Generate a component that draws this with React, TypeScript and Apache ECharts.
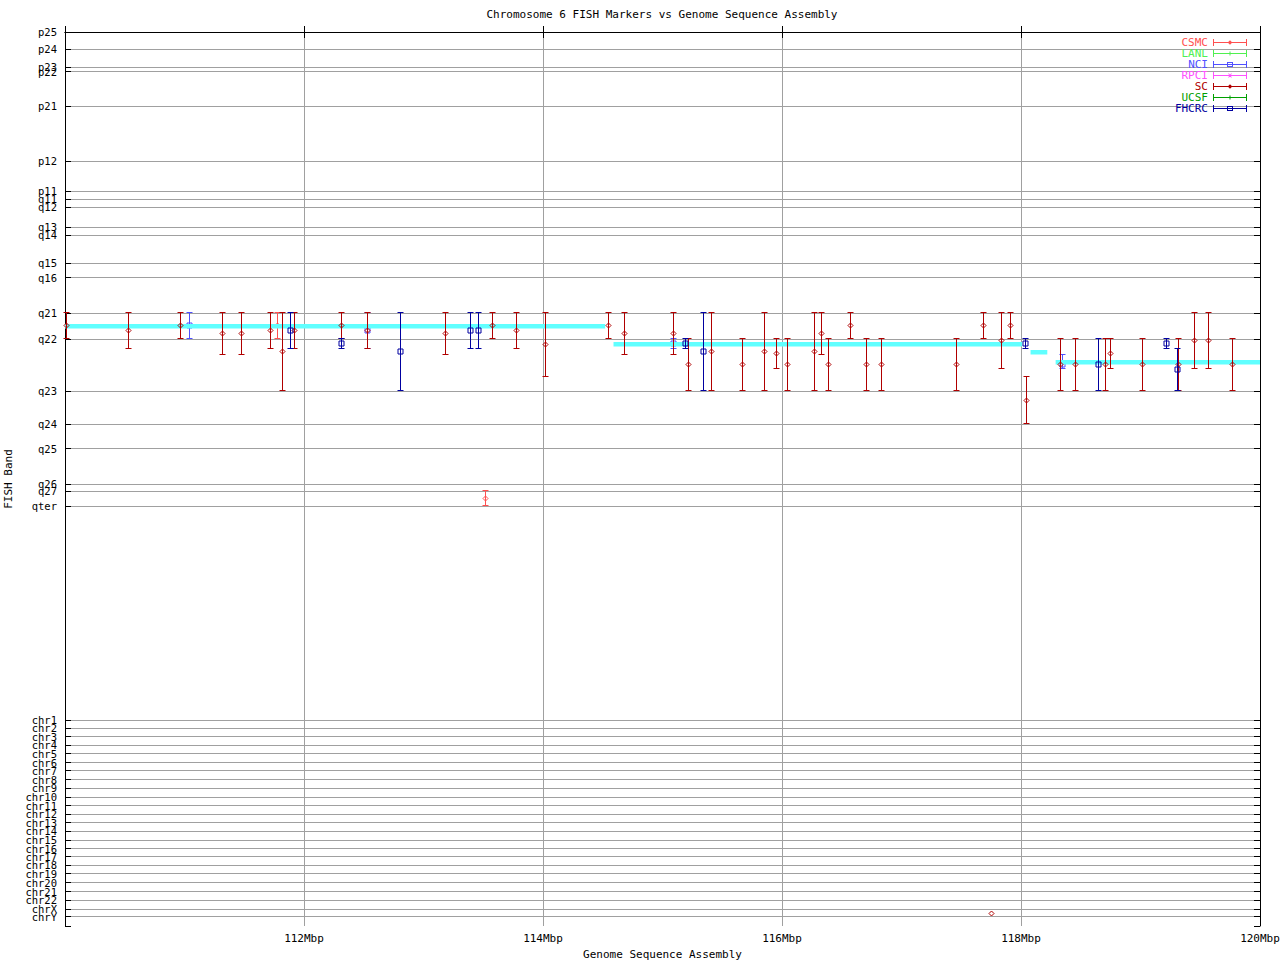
import React, { useEffect, useRef } from 'react';
import * as echarts from 'echarts';

const TITLE = 'Chromosome 6 FISH Markers vs Genome Sequence Assembly';
const X_NAME = 'Genome Sequence Assembly';
const Y_NAME = 'FISH Band';

// x axis: Mbp
const X_MIN = 110;
const X_MAX = 120;
const X_STEP = 2;

// y axis: band position units (0 = p25 at top, 100 = bottom)
const Y_MIN = 0;
const Y_MAX = 100;

const bandLabels = ['p25', 'p24', 'p23', 'p22', 'p21', 'p12', 'p11', 'q11', 'q12', 'q13', 'q14', 'q15', 'q16', 'q21', 'q22', 'q23', 'q24', 'q25', 'q26', 'q27', 'qter'];
const bandPos = [0, 1.9, 3.92, 4.42, 8.28, 14.43, 17.79, 18.68, 19.58, 21.82, 22.71, 25.84, 27.47, 31.42, 34.33, 40.14, 43.84, 46.6, 50.57, 51.33, 53.01];

const chrLabels = ['chr1', 'chr2', 'chr3', 'chr4', 'chr5', 'chr6', 'chr7', 'chr8', 'chr9', 'chr10', 'chr11', 'chr12', 'chr13', 'chr14', 'chr15', 'chr16', 'chr17', 'chr18', 'chr19', 'chr20', 'chr21', 'chr22', 'chrX', 'chrY'];
const chrPos = [76.95, 77.85, 78.82, 79.75, 80.73, 81.73, 82.63, 83.63, 84.56, 85.57, 86.54, 87.47, 88.44, 89.41, 90.38, 91.35, 92.25, 93.22, 94.15, 95.16, 96.16, 97.09, 98.1, 98.96];

// genome sequence assembly segments
const asmStart = [110.0, 114.59, 118.08, 118.29];
const asmEnd = [114.52, 118.01, 118.22, 120.0];
const asmBand = [32.84, 34.85, 35.74, 36.86];

// FISH markers: [position Mbp, band, band low, band high]
const csmcMarkers = [
  [111.78, 32.84, 31.42, 34.33],
  [113.52, 52.23, 51.33, 53.01],
];
const lanlMarkers: number[][] = [];
const nciMarkers = [
  [111.04, 32.84, 31.42, 34.33],
  [112.53, 33.43, 31.42, 35.44],
  [115.09, 34.88, 34.33, 35.44],
  [118.35, 37.23, 36.12, 37.68],
];
const rpciMarkers: number[][] = [];
const scMarkers = [
  [110.01, 32.84, 31.42, 34.33],
  [110.53, 33.43, 31.42, 35.44],
  [110.97, 32.84, 31.42, 34.33],
  [111.32, 33.77, 31.42, 36.12],
  [111.48, 33.77, 31.42, 36.12],
  [111.72, 33.43, 31.42, 35.44],
  [111.82, 35.78, 31.42, 40.14],
  [111.92, 33.43, 31.42, 35.44],
  [112.31, 32.84, 31.42, 34.33],
  [112.53, 33.43, 31.42, 35.44],
  [113.18, 33.77, 31.42, 36.12],
  [113.58, 32.84, 31.42, 34.33],
  [113.78, 33.43, 31.42, 35.44],
  [114.02, 35.0, 31.42, 38.58],
  [114.55, 32.84, 31.42, 34.33],
  [114.68, 33.77, 31.42, 36.12],
  [115.09, 33.77, 31.42, 36.12],
  [115.22, 37.23, 34.33, 40.14],
  [115.41, 35.78, 31.42, 40.14],
  [115.67, 37.23, 34.33, 40.14],
  [115.85, 35.78, 31.42, 40.14],
  [115.95, 36.0, 34.33, 37.68],
  [116.05, 37.23, 34.33, 40.14],
  [116.27, 35.78, 31.42, 40.14],
  [116.33, 33.77, 31.42, 36.12],
  [116.39, 37.23, 34.33, 40.14],
  [116.57, 32.84, 31.42, 34.33],
  [116.71, 37.23, 34.33, 40.14],
  [116.83, 37.23, 34.33, 40.14],
  [117.46, 37.23, 34.33, 40.14],
  [117.69, 32.84, 31.42, 34.33],
  [117.84, 34.55, 31.42, 37.68],
  [117.91, 32.84, 31.42, 34.33],
  [118.05, 41.26, 38.58, 43.84],
  [118.33, 37.23, 34.33, 40.14],
  [118.46, 37.23, 34.33, 40.14],
  [118.71, 37.23, 34.33, 40.14],
  [118.75, 36.0, 34.33, 37.68],
  [119.02, 37.23, 34.33, 40.14],
  [119.32, 37.23, 34.33, 40.14],
  [119.45, 34.55, 31.42, 37.68],
  [119.57, 34.55, 31.42, 37.68],
  [119.77, 37.23, 34.33, 40.14],
  [117.75, 98.59, 98.59, 98.59],
];
const ucsfMarkers: number[][] = [];
const fhcrcMarkers = [
  [111.89, 33.43, 31.42, 35.44],
  [112.31, 34.88, 34.33, 35.44],
  [112.81, 35.78, 31.42, 40.14],
  [113.39, 33.43, 31.42, 35.44],
  [113.46, 33.43, 31.42, 35.44],
  [115.19, 34.88, 34.33, 35.44],
  [115.34, 35.78, 31.42, 40.14],
  [118.04, 34.88, 34.33, 35.44],
  [118.65, 37.23, 34.33, 40.14],
  [119.22, 34.88, 34.33, 35.44],
  [119.31, 37.79, 35.44, 40.14],
];

const FONT = 'DejaVu Sans Mono';
const FS = 11;
const FS_Y = 10.5;
const GRID_GRAY = '#a0a0a0';
const ASM_COLOR = '#60ffff';

const BAR = 'M0,0H1V7H0Z M33,0H34V7H33Z M0,3H34V4H0Z';
const ICON_DIAMOND = 'path://' + BAR + ' M17,1.2L19.3,3.5L17,5.8L14.7,3.5Z';
const ICON_PLUS = 'path://' + BAR + ' M16.5,1.5H17.5V5.5H16.5Z';
const ICON_SQUARE = 'path://' + BAR + ' M14,1H20V6H14Z M15,2V5H19V2Z';
const ICON_CROSS = 'path://' + BAR + ' M15,1.5H16L19,5.5H18Z M18,1.5H19L16,5.5H15Z';

type Src = { name: string; color: string; marker: string; icon: string; data: number[][] };

const sources: Src[] = [
  { name: 'CSMC', color: '#ff5050', marker: 'diamond', icon: ICON_DIAMOND, data: csmcMarkers },
  { name: 'LANL', color: '#50f050', marker: 'plus', icon: ICON_PLUS, data: lanlMarkers },
  { name: 'NCI', color: '#5050ff', marker: 'square', icon: ICON_SQUARE, data: nciMarkers },
  { name: 'RPCI', color: '#ff50ff', marker: 'cross', icon: ICON_CROSS, data: rpciMarkers },
  { name: 'SC', color: '#b00000', marker: 'diamond', icon: ICON_DIAMOND, data: scMarkers },
  { name: 'UCSF', color: '#00a000', marker: 'plus', icon: ICON_PLUS, data: ucsfMarkers },
  { name: 'FHCRC', color: '#0000a0', marker: 'square', icon: ICON_SQUARE, data: fhcrcMarkers },
];

const crisp = (v: number) => Math.round(v - 0.5) + 0.5;

function errorSeries(src: Src) {
  return {
    type: 'custom',
    name: src.name,
    coordinateSystem: 'cartesian2d',
    itemStyle: { color: src.color },
    encode: { x: 0, y: [1, 2, 3] },
    data: src.data,
    renderItem: (params: any, api: any) => {
      const x = api.value(0);
      const c = api.value(1);
      const lo = api.value(2);
      const hi = api.value(3);
      const pc = api.coord([x, c]);
      const pl = api.coord([x, lo]);
      const ph = api.coord([x, hi]);
      const px = crisp(pc[0]);
      const stroke = { stroke: src.color, lineWidth: 1, fill: 'none' };
      const children: any[] = [];
      if (lo !== hi) {
        const y1 = crisp(pl[1]);
        const y2 = crisp(ph[1]);
        children.push({ type: 'line', shape: { x1: px, y1, x2: px, y2 }, style: stroke });
        children.push({ type: 'line', shape: { x1: px - 3, y1, x2: px + 3, y2: y1 }, style: stroke });
        children.push({ type: 'line', shape: { x1: px - 3, y1: y2, x2: px + 3, y2 }, style: stroke });
      }
      const py = crisp(pc[1]);
      if (src.marker === 'diamond') {
        children.push({
          type: 'polygon',
          shape: { points: [[px, py - 2.5], [px + 2.5, py], [px, py + 2.5], [px - 2.5, py]] },
          style: stroke,
        });
      } else if (src.marker === 'square') {
        children.push({ type: 'rect', shape: { x: px - 2.5, y: py - 2.5, width: 5, height: 5 }, style: stroke });
      } else if (src.marker === 'plus') {
        children.push({ type: 'line', shape: { x1: px - 2.5, y1: py, x2: px + 2.5, y2: py }, style: stroke });
        children.push({ type: 'line', shape: { x1: px, y1: py - 2.5, x2: px, y2: py + 2.5 }, style: stroke });
      } else {
        children.push({ type: 'line', shape: { x1: px - 2.5, y1: py - 2.5, x2: px + 2.5, y2: py + 2.5 }, style: stroke });
        children.push({ type: 'line', shape: { x1: px - 2.5, y1: py + 2.5, x2: px + 2.5, y2: py - 2.5 }, style: stroke });
      }
      return { type: 'group', children };
    },
  };
}

const asmData = asmStart.map((s, i) => [s, asmEnd[i], asmBand[i]]);

const assemblySeries = {
  type: 'custom',
  name: 'Assembly',
  coordinateSystem: 'cartesian2d',
  itemStyle: { color: ASM_COLOR },
  encode: { x: [0, 1], y: 2 },
  data: asmData,
  renderItem: (params: any, api: any) => {
    const a = api.coord([api.value(0), api.value(2)]);
    const b = api.coord([api.value(1), api.value(2)]);
    const y = Math.round(a[1]);
    return {
      type: 'rect',
      shape: { x: a[0], y: y - 2, width: b[0] - a[0], height: 4.5 },
      style: { fill: ASM_COLOR },
    };
  },
};

// the trailing Y_MAX entry closes the list; it sits on the bottom border with no label
const allTickPos = bandPos.concat(chrPos, [Y_MAX]);
const allTickLabels = bandLabels.concat(chrLabels, ['']);
const yLabel = (v: number) => {
  const i = allTickPos.findIndex((p) => Math.abs(p - v) < 1e-6);
  return i >= 0 ? allTickLabels[i] : '';
};

const textBase = { fontFamily: FONT, fontSize: FS, color: '#000' };

export default function App() {
  const ref = useRef<HTMLDivElement>(null);
  useEffect(() => {
    if (!ref.current) return;
    const chart = echarts.init(ref.current, null, { renderer: 'svg' });
    const seriesList: any[] = [];
    sources.forEach((s, i) => {
      seriesList.push(errorSeries(s));
      if (i === 3) seriesList.push(assemblySeries);
    });
    chart.setOption({
      animation: false,
      backgroundColor: '#fff',
      textStyle: { fontFamily: FONT },
      title: {
        text: TITLE,
        left: 662,
        top: 9,
        padding: 0,
        textAlign: 'center',
        textStyle: { ...textBase, fontWeight: 'normal' },
      },
      legend: {
        orient: 'vertical',
        align: 'right',
        right: 33,
        top: 37,
        padding: 0,
        itemWidth: 34,
        itemHeight: 7,
        itemGap: 0,
        selectedMode: false,
        itemStyle: { borderWidth: 0 },
        textStyle: { fontFamily: FONT, fontSize: FS, lineHeight: 11 },
        data: sources.map((s) => ({ name: s.name, icon: s.icon, textStyle: { color: s.color } })),
      },
      grid: { left: 65, right: 20, top: 32, bottom: 34, outerBoundsMode: 'none' },
      xAxis: [
        {
          type: 'value',
          min: X_MIN,
          max: X_MAX,
          interval: X_STEP,
          name: X_NAME,
          nameLocation: 'middle',
          nameGap: 21,
          nameTextStyle: textBase,
          axisLine: { show: true, lineStyle: { color: '#000', width: 1 } },
          axisTick: { show: true, inside: true, length: 6, lineStyle: { color: '#000' } },
          axisLabel: {
            ...textBase,
            margin: 7,
            formatter: (v: number) => (v === X_MIN ? '' : v + 'Mbp'),
          },
          splitLine: { show: true, showMinLine: false, showMaxLine: false, lineStyle: { color: GRID_GRAY, width: 1 } },
        },
        {
          type: 'value',
          position: 'top',
          min: X_MIN,
          max: X_MAX,
          interval: X_STEP,
          axisLine: { show: true, lineStyle: { color: '#000', width: 1 } },
          axisTick: { show: true, inside: true, length: 6, lineStyle: { color: '#000' } },
          axisLabel: { show: false },
          splitLine: { show: false },
        },
      ],
      yAxis: [
        {
          type: 'value',
          min: Y_MIN,
          max: Y_MAX,
          inverse: true,
          name: Y_NAME,
          nameLocation: 'middle',
          nameGap: 42,
          nameRotate: 90,
          nameTextStyle: textBase,
          axisLine: { show: true, lineStyle: { color: '#000', width: 1 } },
          axisTick: { show: true, inside: true, length: 6, customValues: allTickPos, lineStyle: { color: '#000' } },
          axisLabel: { ...textBase, fontSize: FS_Y, lineHeight: 9, margin: 8, customValues: allTickPos, formatter: yLabel },
          splitLine: { show: true, showMinLine: false, showMaxLine: false, lineStyle: { color: GRID_GRAY, width: 1 } },
        },
        {
          type: 'value',
          position: 'right',
          min: Y_MIN,
          max: Y_MAX,
          inverse: true,
          axisLine: { show: true, lineStyle: { color: '#000', width: 1 } },
          axisTick: { show: true, inside: true, length: 6, customValues: allTickPos, lineStyle: { color: '#000' } },
          axisLabel: { show: false },
          splitLine: { show: false },
        },
      ],
      series: seriesList,
    });
    return () => chart.dispose();
  }, []);
  return <div ref={ref} style={{ position: 'absolute', left: 0, top: 0, width: 1280, height: 960 }} />;
}
